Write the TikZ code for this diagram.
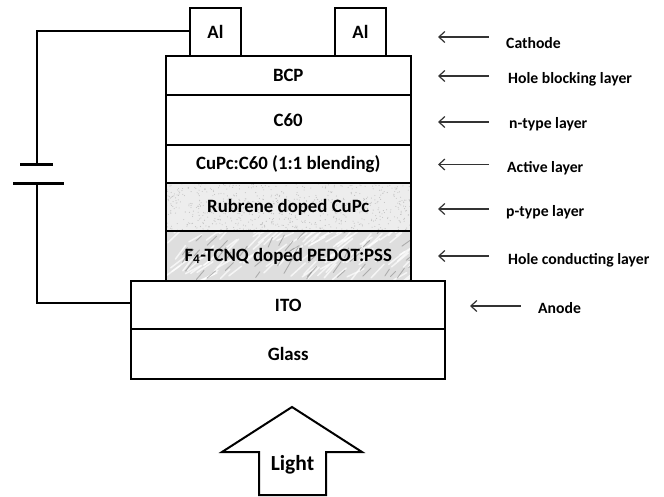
\documentclass[tikz,border=0pt]{standalone}
\usepackage{fontspec}
\usepackage{xcolor}
\setmainfont{Carlito}
\usetikzlibrary{arrows.meta, positioning, backgrounds, calc}

\begin{document}
\begin{tikzpicture}[
    x=1pt, y=-1pt,
    layer/.style={rectangle, draw, line width=2pt, outer sep=0pt, inner sep=0pt, minimum width=245.5pt, align=center, font=\fontsize{18.8}{22}\bfseries},
    wide/.style={layer, minimum width=314pt},
    contact/.style={layer, minimum width=51pt, minimum height=48pt},
    tag/.style={anchor=west, inner sep=0pt, font=\fontsize{15.7}{18}\bfseries},
    pointer/.style={{Straight Barb[length=6pt, width=11pt]}-, line width=1.2pt, black!80},
    wire/.style={line width=2pt},
    plate/.style={line width=3pt}
]
\useasboundingbox (0,0) rectangle (664,497);

% Layer stack
\node[layer, minimum height=39pt, anchor=north] (bcp) at (288.25,56) {BCP};
\node[layer, minimum height=50pt, below=0pt of bcp] (c60) {C60};
\node[layer, minimum height=38pt, below=0pt of c60] (active) {CuPc:C60 (1:1 blending)};
\node[layer, minimum height=48pt, below=0pt of active] (rubrene) {Rubrene doped CuPc};
\node[layer, minimum height=50pt, below=0pt of rubrene] (pedot) {F\textsubscript{4}-TCNQ doped PEDOT:PSS};
\node[wide, minimum height=48pt, below=0pt of pedot] (ito) {ITO};
\node[wide, minimum height=50pt, below=0pt of ito] (glass) {Glass};

% Cathode contacts
\node[contact, anchor=south] (alleft) at (215.5,56) {Al};
\node[contact, anchor=south] (alright) at (360.5,56) {Al};

% Textures behind the doped layers
\begin{scope}[on background layer]
  \pgfmathsetseed{41}
  \begin{scope}
    \clip (rubrene.north west) rectangle (rubrene.south east);
    \fill[black!7] (rubrene.north west) rectangle (rubrene.south east);
    \foreach \i in {1,...,700}
      \fill[black!24] ($(rubrene.center)+(122*rand,24*rand)$) circle (0.55pt);
  \end{scope}
  \begin{scope}
    \clip (pedot.north west) rectangle (pedot.south east);
    \fill[black!13] (pedot.north west) rectangle (pedot.south east);
    \foreach \i in {1,...,110}
      \draw[white, line width=1.5pt, opacity=0.7, line cap=round]
        ($(pedot.center)+(122*rand,25*rand)$) -- ++(9+8*rnd,-7-7*rnd);
    \foreach \i in {1,...,50}
      \draw[black!45, line width=0.9pt, opacity=0.6, line cap=round]
        ($(pedot.center)+(122*rand,25*rand)$) -- ++(4+6*rnd,-5-6*rnd);
  \end{scope}
\end{scope}

% Battery
\coordinate (topbend) at (37,31);
\coordinate (bottombend) at (37,303);
\coordinate (platetop) at (37,164.5);
\coordinate (platebottom) at (37,184);
\draw[wire] (alleft.west |- topbend) -- (topbend) -- (platetop);
\draw[wire] (platebottom) -- (bottombend) -- (ito.west |- bottombend);
\draw[plate] (20,164.5) -- (53,164.5);
\draw[plate] (13,184) -- (64,184);

% Light arrow
\draw[line width=2pt, line join=miter] (259,495) -- (259,452) -- (222,452) -- (292,407)
    -- (362,452) -- (326,452) -- (326,495) -- cycle;
\node[font=\fontsize{21.5}{24}\bfseries, inner sep=0pt] (light) at (292.5,465) {Light};

% Labels
\node[tag] (cathode) at (506,43) {Cathode};
\node[tag] (blocking) at (508,79) {Hole blocking layer};
\node[tag] (ntype) at (509,124) {n-type layer};
\node[tag] (activetag) at (507,168) {Active layer};
\node[tag] (ptype) at (506,212) {p-type layer};
\node[tag] (conducting) at (508,260) {Hole conducting layer};
\node[tag] (anode) at (538,308) {Anode};

% Pointers
\coordinate (tail) at (489,0);
\coordinate (anodetail) at (521,306);
\coordinate (cathodetip) at (438,37);
\coordinate (blockingtip) at (438,76);
\coordinate (ntypetip) at (438,122);
\coordinate (activetip) at (438,164.5);
\coordinate (ptypetip) at (438,209);
\coordinate (conductingtip) at (438,256);
\coordinate (anodetip) at (470,306);
\draw[pointer] (cathodetip) -- (cathodetip -| tail);
\draw[pointer] (blockingtip) -- (blockingtip -| tail);
\draw[pointer] (ntypetip) -- (ntypetip -| tail);
\draw[pointer] (activetip) -- (activetip -| tail);
\draw[pointer] (ptypetip) -- (ptypetip -| tail);
\draw[pointer] (conductingtip) -- (conductingtip -| tail);
\draw[pointer] (anodetip) -- (anodetail);
\end{tikzpicture}
\end{document}
